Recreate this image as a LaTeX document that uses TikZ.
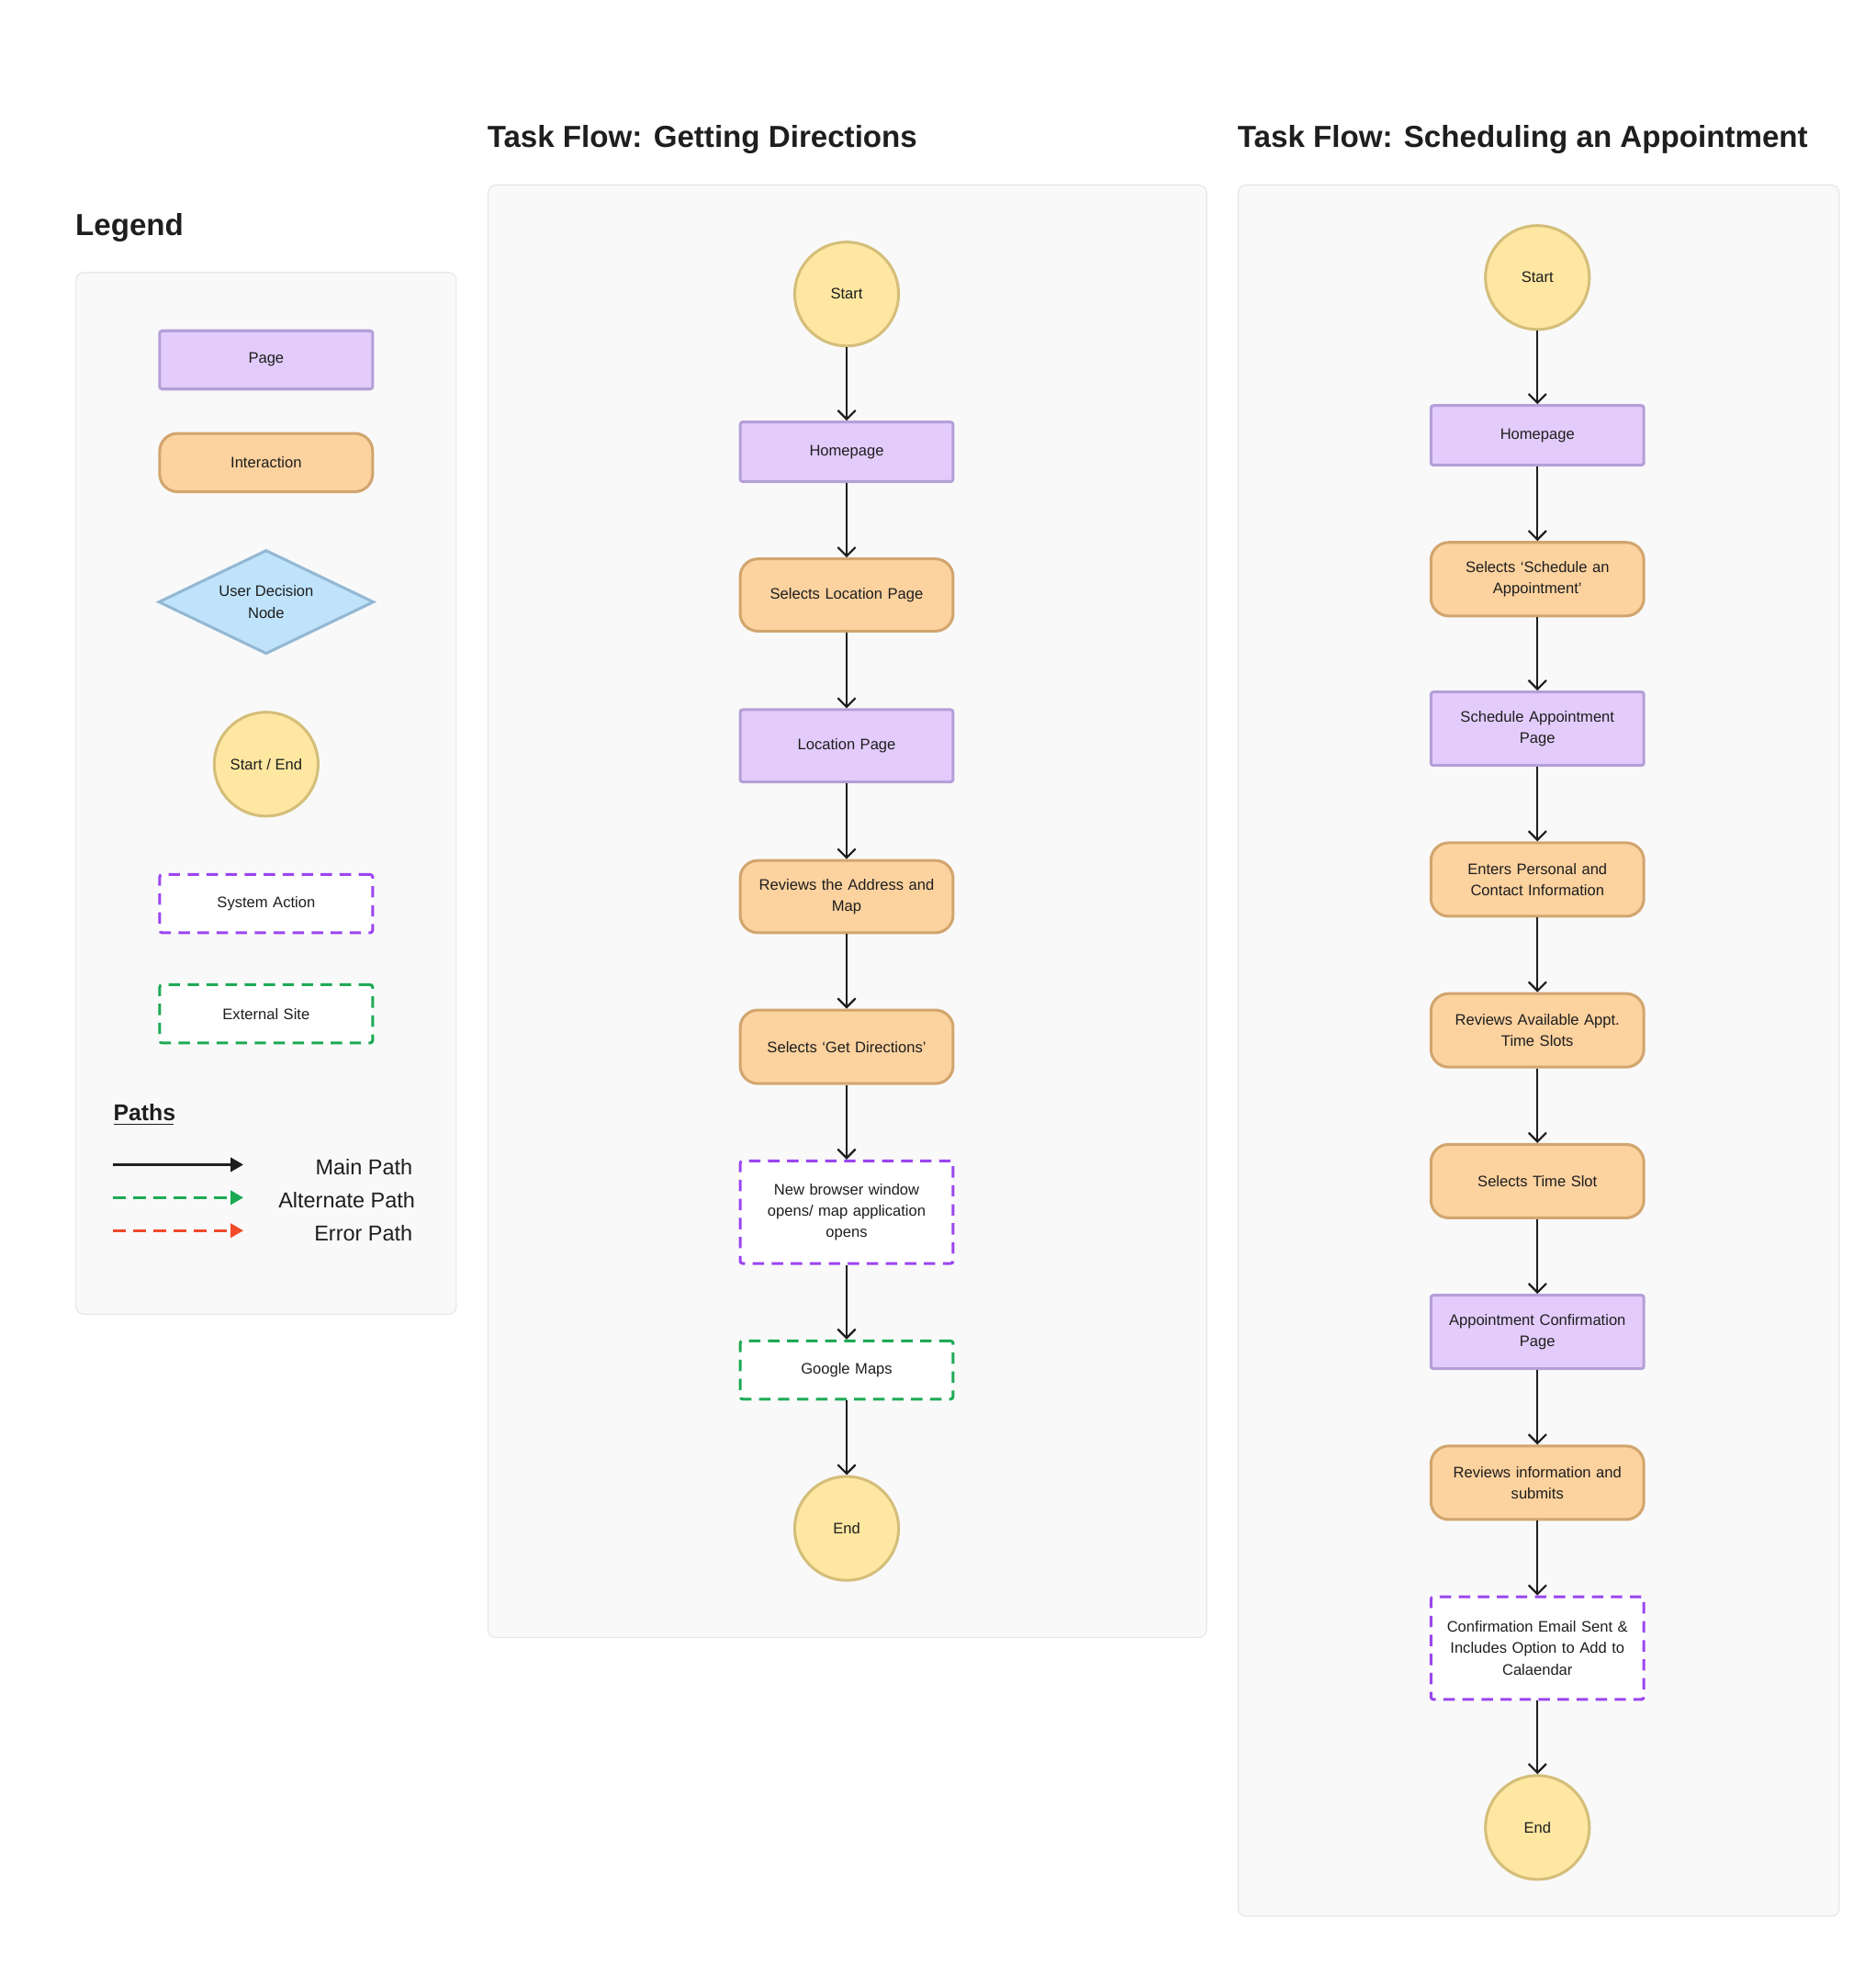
\documentclass[tikz,border=0pt]{standalone}
\usepackage{fontspec}
\setmainfont{Liberation Sans}
\usetikzlibrary{shapes.geometric,arrows.meta}
\definecolor{pagef}{HTML}{E3CCFC}\definecolor{pagel}{HTML}{B49FD8}
\definecolor{intf}{HTML}{FCD29F}\definecolor{intl}{HTML}{D2A56E}
\definecolor{decf}{HTML}{BFE3FB}\definecolor{decl}{HTML}{93B8D4}
\definecolor{sef}{HTML}{FDE7A1}\definecolor{sel}{HTML}{D4BE7A}
\definecolor{sysl}{HTML}{9B45F0}\definecolor{extl}{HTML}{1DAA55}
\definecolor{errl}{HTML}{F04A2A}\definecolor{panf}{HTML}{F9F9F9}\definecolor{panl}{HTML}{E6E6E6}
\definecolor{txt}{HTML}{1E1E1E}
\tikzset{
 x=1pt,y=-1pt,
 base/.style={minimum width=168pt,align=center,font=\fontsize{12}{17}\selectfont,text=txt,line width=2.2pt,text width=150pt},
 pagebox/.style={base,rectangle,rounded corners=2pt,fill=pagef,draw=pagel},
 intbox/.style={base,rectangle,rounded corners=14pt,fill=intf,draw=intl},
 sysbox/.style={base,rectangle,rounded corners=2pt,fill=white,draw=sysl,dash pattern=on 9pt off 6pt},
 extbox/.style={base,rectangle,rounded corners=2pt,fill=white,draw=extl,dash pattern=on 9pt off 6pt},
 sebox/.style={circle,minimum size=82pt,inner sep=0pt,fill=sef,draw=sel,line width=2.2pt,font=\fontsize{12}{15}\selectfont,text=txt},
 panel/.style={fill=panf,draw=panl,line width=0.8pt,rounded corners=6pt},
 ttl/.style={anchor=west,font=\fontsize{24}{28}\selectfont\bfseries,text=txt},
 conn/.style={-{Straight Barb[length=7pt,width=14pt,line width=1.6pt]},line width=1.6pt,draw=txt},
}
\begin{document}
\begin{tikzpicture}
\useasboundingbox (0,0) rectangle (1480,1567.1);
\fill[white] (0,0) rectangle (1480,1567.1);
% legend
\node[ttl] at (56,180) {Legend};
\draw[panel] (60,215) rectangle (360,1037);
\node[pagebox,minimum height=46pt] (lp) at (210,284) {Page};
\node[intbox,minimum height=46pt] (li) at (210,365) {Interaction};
\node[diamond,aspect=2.07,minimum width=170pt,minimum height=82pt,inner sep=0pt,fill=decf,draw=decl,line width=2.2pt,align=center,font=\fontsize{12}{17}\selectfont,text=txt] (ld) at (210,475) {User Decision\\Node};
\node[sebox] (ls) at (210,603) {Start / End};
\node[sysbox,minimum height=46pt] (lsys) at (210,713) {System Action};
\node[extbox,minimum height=46pt] (lext) at (210,800) {External Site};
\node[anchor=west,font=\fontsize{18}{20}\selectfont\bfseries,text=txt] (paths) at (86,878) {Paths};
\draw[txt,line width=1.4pt] (paths.south west)++(4,-1) -- ++(47,0);
\coordinate (m1) at (89,919); \coordinate (m2) at (192,919);
\coordinate (a1) at (89,945); \coordinate (a2) at (192,945);
\coordinate (e1) at (89,971); \coordinate (e2) at (192,971);
\draw[line width=2pt,txt,-{Triangle[length=10pt,width=11pt]}] (m1) -- (m2);
\draw[line width=2pt,extl,dash pattern=on 10pt off 6pt,-{Triangle[length=10pt,width=11pt]}] (a1) -- (a2);
\draw[line width=2pt,errl,dash pattern=on 10pt off 6pt,-{Triangle[length=10pt,width=11pt]}] (e1) -- (e2);
\node[anchor=east,font=\fontsize{17}{20}\selectfont,text=txt] at (329,921) {Main Path};
\node[anchor=east,font=\fontsize{17}{20}\selectfont,text=txt] at (331,947) {Alternate Path};
\node[anchor=east,font=\fontsize{17}{20}\selectfont,text=txt] at (329,973) {Error Path};
% panel 2
\node[ttl] at (381,110) {Task Flow: Getting Directions};
\draw[panel] (385,146) rectangle (952,1292);
\node[sebox] (s1) at (668,232) {Start};
\node[pagebox,minimum height=47pt] (b1) at (668,356.5) {Homepage};
\node[intbox,minimum height=57pt] (b2) at (668,469.5) {Selects Location Page};
\node[pagebox,minimum height=57pt] (b3) at (668,588.5) {Location Page};
\node[intbox,minimum height=57pt] (b4) at (668,707.5) {Reviews the Address and\\Map};
\node[intbox,minimum height=58pt] (b5) at (668,826) {Selects ‘Get Directions’};
\node[sysbox,minimum height=81pt] (b6) at (668,956.5) {New browser window\\opens/ map application\\opens};
\node[extbox,minimum height=46pt] (b7) at (668,1081) {Google Maps};
\node[sebox] (e1n) at (668,1206) {End};
\foreach \a/\b in {s1/b1,b1/b2,b2/b3,b3/b4,b4/b5,b5/b6,b6/b7,b7/e1n} \draw[conn] (\a) -- (\b);
% panel 3
\node[ttl] at (973,110) {Task Flow: Scheduling an Appointment};
\draw[panel] (977,146) rectangle (1451,1512);
\node[sebox] (s2) at (1213,219) {Start};
\node[pagebox,minimum height=47pt] (c1) at (1213,343.5) {Homepage};
\node[intbox,minimum height=58pt] (c2) at (1213,457) {Selects ‘Schedule an\\Appointment’};
\node[pagebox,minimum height=58pt] (c3) at (1213,575) {Schedule Appointment\\Page};
\node[intbox,minimum height=58pt] (c4) at (1213,694) {Enters Personal and\\Contact Information};
\node[intbox,minimum height=58pt] (c5) at (1213,813) {Reviews Available Appt.\\Time Slots};
\node[intbox,minimum height=58pt] (c6) at (1213,932) {Selects Time Slot};
\node[pagebox,minimum height=58pt] (c7) at (1213,1051) {Appointment Confirmation\\Page};
\node[intbox,minimum height=58pt] (c8) at (1213,1170) {Reviews information and\\submits};
\node[sysbox,minimum height=81pt] (c9) at (1213,1300.5) {Confirmation Email Sent \&\\Includes Option to Add to\\Calaendar};
\node[sebox] (e2n) at (1213,1442) {End};
\foreach \a/\b in {s2/c1,c1/c2,c2/c3,c3/c4,c4/c5,c5/c6,c6/c7,c7/c8,c8/c9,c9/e2n} \draw[conn] (\a) -- (\b);
\end{tikzpicture}
\end{document}
